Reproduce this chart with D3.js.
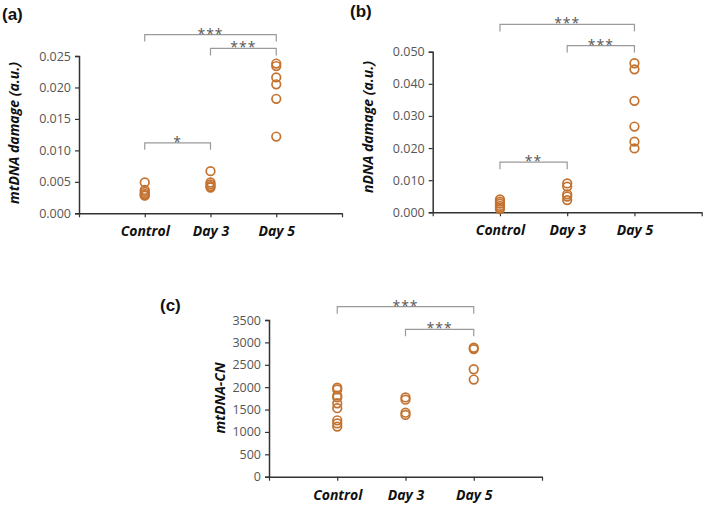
<!DOCTYPE html>
<html>
<head>
<meta charset="utf-8">
<script src="https://cdn.jsdelivr.net/npm/d3@7"></script>
<style>
  body { margin: 0; background: #fff; }
  svg { display: block; }
  .tick text { font-family: "Open Sans", "Noto Sans", sans-serif; }
</style>
</head>
<body>
<script>
const width = 709;
const height = 506;

const categories = ['Control', 'Day 3', 'Day 5'];

// panel (a) mtDNA damage
const mtControl = [0.0049, 0.0037, 0.0034, 0.0031, 0.0029, 0.0028];
const mtDay3 = [0.0067, 0.0049, 0.0046, 0.0043, 0.0041];
const mtDay5 = [0.0238, 0.0234, 0.0216, 0.0205, 0.0182, 0.0122];
const mtTicks = [0, 0.005, 0.010, 0.015, 0.020, 0.025];

// panel (b) nDNA damage
const nControl = [0.0040, 0.0033, 0.0027, 0.0020, 0.0014, 0.0010];
const nDay3 = [0.0090, 0.0080, 0.0056, 0.0049, 0.0038];
const nDay5 = [0.0464, 0.0445, 0.0347, 0.0267, 0.0220, 0.0199];
const nTicks = [0, 0.010, 0.020, 0.030, 0.040, 0.050];

// panel (c) mtDNA copy number
const cnControl = [1990, 1950, 1810, 1770, 1640, 1530, 1260, 1190, 1120];
const cnDay3 = [1770, 1720, 1430, 1380];
const cnDay5 = [2880, 2850, 2400, 2170];
const cnTicks = [0, 500, 1000, 1500, 2000, 2500, 3000, 3500];

// significance brackets: [from group, to group, level, stars]
const mtSig = [[0, 2, 0.0284, '***'], [1, 2, 0.0262, '***'], [0, 1, 0.0112, '*']];
const nSig = [[0, 2, 0.0585, '***'], [1, 2, 0.0519, '***'], [0, 1, 0.0156, '**']];
const cnSig = [[0, 2, 3797, '***'], [1, 2, 3292, '***']];

const orange = '#c4722f';

const svg = d3.select('body')
    .append('svg')
    .attr('width', width)
    .attr('height', height);

function drawPanel(p) {
    const g = svg.append('g');

    const x = d3.scaleLinear().domain([0, 4]).range([p.left, p.right]);
    const y = d3.scaleLinear().domain(p.domain).range([p.bottom, p.top]);

    // y axis
    const yAxis = g.append('g')
        .attr('transform', `translate(${p.left},0)`)
        .call(d3.axisLeft(y).tickValues(p.ticks).tickSize(4).tickPadding(4)
            .tickFormat(p.format));
    yAxis.select('.domain').attr('stroke', '#333').attr('stroke-width', 1.5);
    yAxis.selectAll('.tick line').attr('stroke', '#333').attr('stroke-width', 1.2);
    yAxis.selectAll('.tick text').attr('fill', '#555').style('font-size', '12.5px');

    // x axis
    const xAxis = g.append('g')
        .attr('transform', `translate(0,${p.bottom})`)
        .call(d3.axisBottom(x).tickValues([0, 1, 2, 3, 4]).tickSize(4).tickSizeOuter(0)
            .tickFormat(d => categories[d - 1] || ''));
    xAxis.select('.domain').attr('stroke', '#333').attr('stroke-width', 1.5);
    xAxis.selectAll('.tick line').attr('stroke', '#333').attr('stroke-width', 1.2);
    xAxis.selectAll('.tick text')
        .attr('fill', '#111')
        .attr('y', 13)
        .style('font-size', '14px')
        .style('font-weight', 'bold')
        .style('font-style', 'italic');

    // points
    p.groups.forEach((vals, i) => {
        g.append('g')
            .selectAll('circle')
            .data(vals)
            .enter().append('circle')
            .attr('cx', x(i + 1))
            .attr('cy', d => y(d))
            .attr('r', 4.3)
            .attr('fill', 'none')
            .attr('stroke', orange)
            .attr('stroke-width', 1.7);
    });

    // brackets
    p.sig.forEach(s => {
        const x1 = x(s[0] + 1), x2 = x(s[1] + 1), yy = y(s[2]);
        g.append('path')
            .attr('d', `M${x1},${yy + 7}V${yy}H${x2}V${yy + 7}`)
            .attr('fill', 'none')
            .attr('stroke', '#9a9a9a')
            .attr('stroke-width', 1.2);
        g.append('text')
            .attr('x', (x1 + x2) / 2)
            .attr('y', yy + 4)
            .attr('text-anchor', 'middle')
            .attr('fill', '#555')
            .style('font-family', '"Open Sans", sans-serif')
            .style('font-size', '14px')
            .style('letter-spacing', '1px')
            .text(s[3]);
    });

    // y label
    g.append('text')
        .attr('transform', `translate(${p.labelX},${p.labelY}) rotate(-90)`)
        .attr('text-anchor', 'middle')
        .attr('dy', '0.35em')
        .attr('fill', '#111')
        .style('font-family', '"Open Sans", sans-serif')
        .style('font-size', '14px')
        .style('font-weight', 'bold')
        .style('font-style', 'italic')
        .text(p.label);

    // panel letter
    g.append('text')
        .attr('x', p.tagX)
        .attr('y', p.tagY)
        .attr('fill', '#111')
        .style('font-family', '"Liberation Sans", Arial, sans-serif')
        .style('font-size', '17px')
        .style('font-weight', 'bold')
        .text(p.tag);
}

drawPanel({
    left: 79, right: 342, top: 56, bottom: 213.3,
    domain: [0, 0.025], ticks: mtTicks, format: d3.format('.3f'),
    groups: [mtControl, mtDay3, mtDay5], sig: mtSig,
    label: 'mtDNA damage (a.u.)', labelX: 14, labelY: 133,
    tag: '(a)', tagX: 2, tagY: 20
});

drawPanel({
    left: 432.7, right: 701.7, top: 51.7, bottom: 212.3,
    domain: [0, 0.05], ticks: nTicks, format: d3.format('.3f'),
    groups: [nControl, nDay3, nDay5], sig: nSig,
    label: 'nDNA damage (a.u.)', labelX: 368, labelY: 127,
    tag: '(b)', tagX: 350, tagY: 17
});

drawPanel({
    left: 269, right: 542, top: 320, bottom: 476.7,
    domain: [0, 3500], ticks: cnTicks, format: d3.format('d'),
    groups: [cnControl, cnDay3, cnDay5], sig: cnSig,
    label: 'mtDNA-CN', labelX: 220, labelY: 398,
    tag: '(c)', tagX: 160, tagY: 311
});
</script>
</body>
</html>
